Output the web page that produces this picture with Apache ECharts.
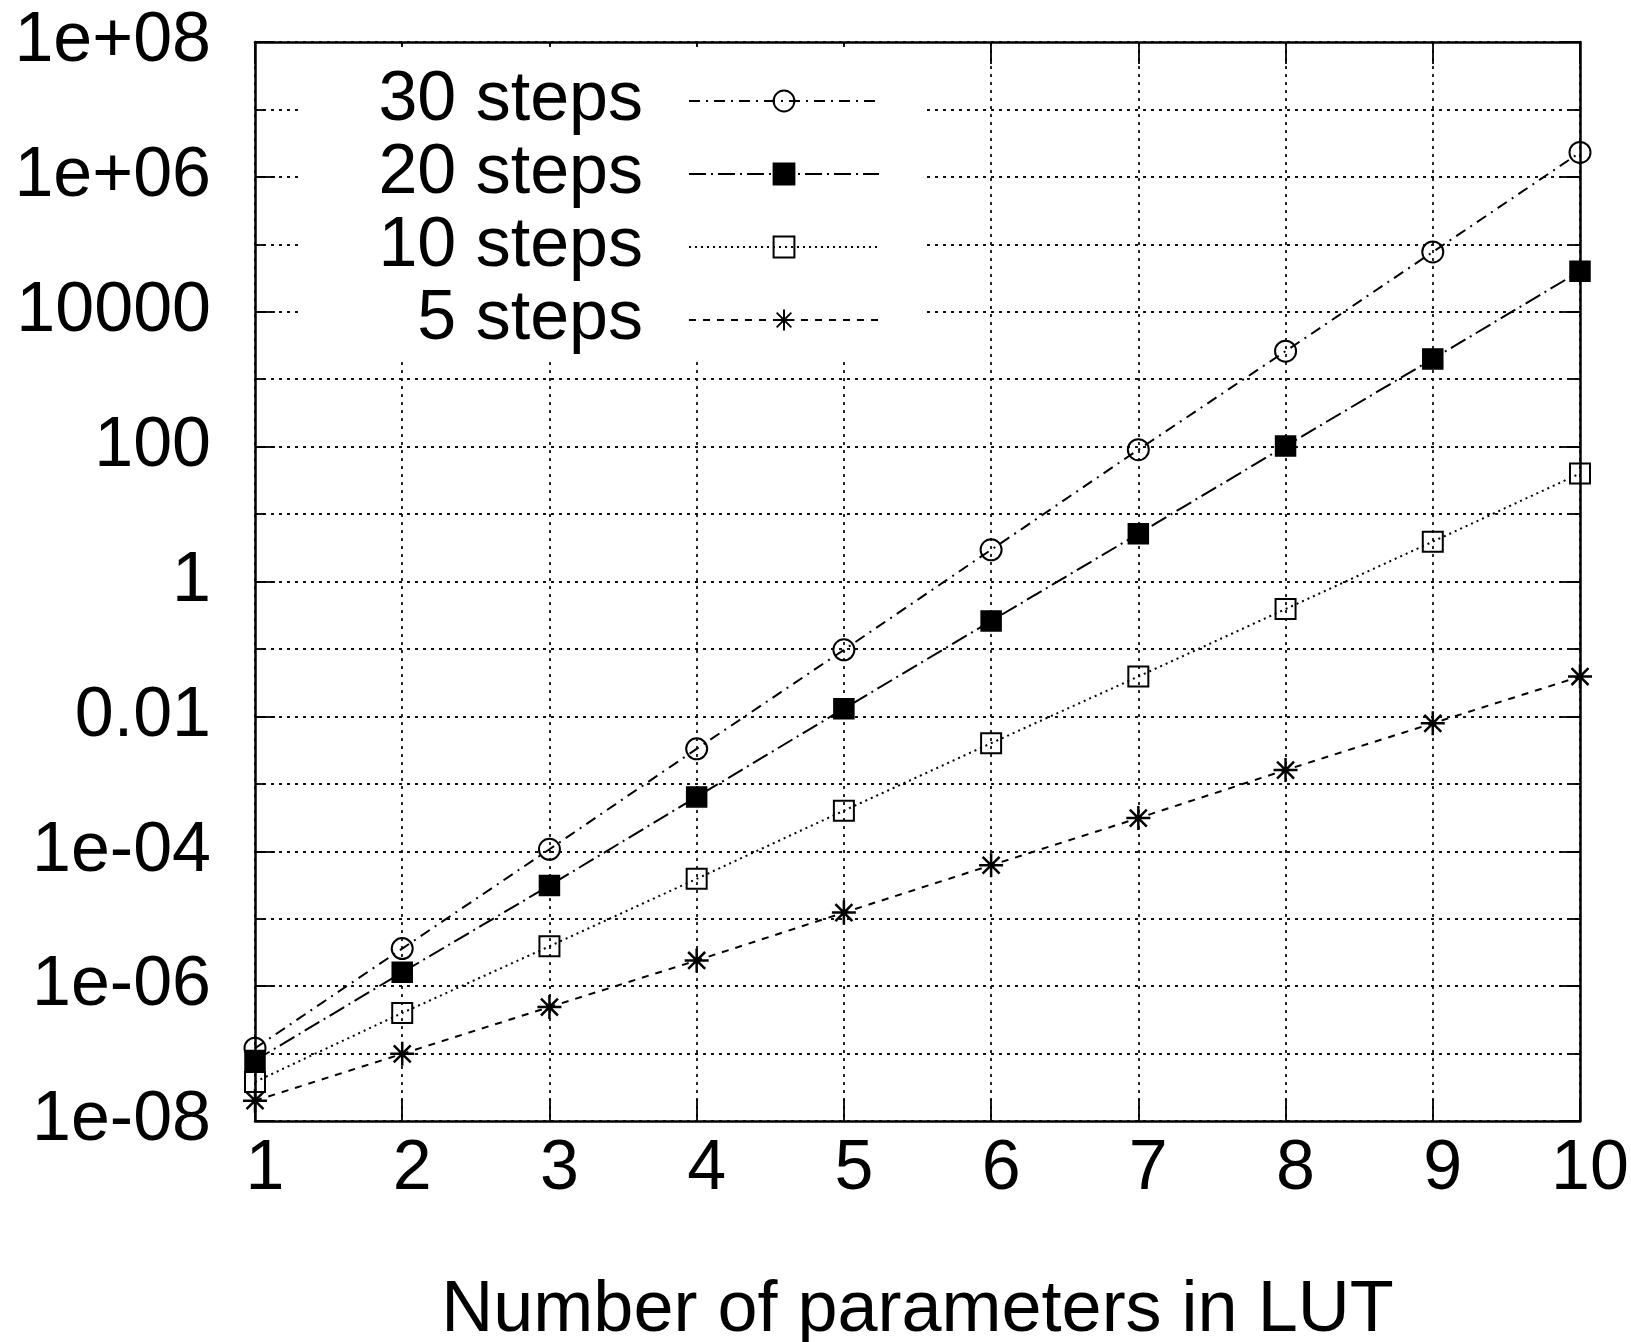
<!DOCTYPE html>
<html>
<head>
<meta charset="utf-8">
<script src="https://cdn.jsdelivr.net/npm/echarts@6/dist/echarts.min.js"></script>
<style>
  html, body { margin: 0; padding: 0; background: #fff; }
  #chart { width: 1631px; height: 1342px; }
</style>
</head>
<body>
<div id="chart"></div>
<script>
// Number of parameters in the look-up table
const paramCounts = [1, 2, 3, 4, 5, 6, 7, 8, 9, 10];

// Values per number of steps
const steps30 = [1.2e-7, 3.6e-6, 1.07e-4, 3.3e-3, 0.097, 2.95, 90, 2600, 7.7e4, 2.3e6];
const steps20 = [7.9e-8, 1.6e-6, 3.1e-5, 6.4e-4, 0.013, 0.26, 5.1, 102, 2.0e3, 4.0e4];
const steps10 = [3.8e-8, 4.0e-7, 3.9e-6, 3.9e-5, 4.0e-4, 4.0e-3, 0.039, 0.39, 3.9, 40];
const steps5  = [2.0e-8, 9.9e-8, 4.9e-7, 2.4e-6, 1.23e-5, 6.2e-5, 3.1e-4, 1.6e-3, 7.9e-3, 0.039];

const seriesNames = ['30 steps', '20 steps', '10 steps', '5 steps'];

// Labelled decades on the log axis and their printed form
const yLabelExponents = [-8, -6, -4, -2, 0, 2, 4, 6, 8];
const yLabelTexts = ['1e-08', '1e-06', '1e-04', '0.01', '1', '100', '10000', '1e+06', '1e+08'];

const FONT = 'Liberation Sans';
const INK = '#000';
const HOLLOW = 'rgba(255,255,255,0)';

const asterisk = 'path://M0,10L20,10M10,0L10,20M2.93,2.93L17.07,17.07M17.07,2.93L2.93,17.07';

function pairs(values) {
  return paramCounts.map((n, i) => [n, values[i]]);
}

function yLabel(v) {
  const e = Math.round(Math.log10(v));
  const i = yLabelExponents.indexOf(e);
  return i >= 0 ? yLabelTexts[i] : '';
}

const dotted = { type: [3, 5], color: '#111', width: 1.8 };

function makeSeries(name, values, symbol, size, dash, fill, border) {
  return {
    name: name,
    type: 'line',
    data: pairs(values),
    symbol: symbol,
    symbolSize: size,
    clip: false,
    lineStyle: { color: INK, width: 2, type: dash },
    itemStyle: { color: fill, borderColor: INK, borderWidth: border },
    emphasis: { disabled: true }
  };
}

const chart = echarts.init(document.getElementById('chart'), null, { renderer: 'canvas' });

const logAxisBase = { type: 'log', logBase: 10, min: 1e-8, max: 1e8 };

chart.setOption({
  animation: false,
  backgroundColor: '#fff',
  textStyle: { fontFamily: FONT, color: INK },
  grid: { left: 255, right: 51, top: 42, bottom: 221, containLabel: false, outerBoundsMode: 'none' },
  legend: {
    orient: 'vertical',
    left: 302,
    top: 47,
    align: 'right',
    data: seriesNames,
    itemWidth: 190,
    itemHeight: 26,
    itemGap: 3,
    backgroundColor: '#fff',
    padding: [19, 42, 5, 41],
    selectedMode: false,
    lineStyle: { width: 2 },
    formatter: n => '{a|' + n + '}{g| }',
    textStyle: {
      fontFamily: FONT, fontSize: 70, color: INK,
      rich: {
        a: { fontFamily: FONT, fontSize: 70, lineHeight: 70, width: 300, align: 'right', color: INK },
        g: { fontFamily: FONT, fontSize: 70, lineHeight: 70, width: 41, align: 'right' }
      }
    }
  },
  xAxis: [
    {
      type: 'value', min: 1, max: 10, interval: 1, position: 'bottom',
      name: 'Number of parameters in LUT',
      nameLocation: 'middle', nameGap: 154,
      nameTextStyle: { fontFamily: FONT, fontSize: 72, color: INK },
      axisLine: { show: true, lineStyle: { color: INK, width: 2.5 } },
      axisTick: { show: true, inside: true, length: 22, lineStyle: { color: INK, width: 1.8 } },
      axisLabel: { fontFamily: FONT, fontSize: 70, color: INK, margin: 14, padding: [0, 0, 0, 20] },
      splitLine: { show: true, lineStyle: dotted }
    },
    {
      type: 'value', min: 1, max: 10, interval: 1, position: 'top',
      axisLine: { show: true, lineStyle: { color: INK, width: 2.5 } },
      axisTick: { show: true, inside: true, length: 22, lineStyle: { color: INK, width: 1.8 } },
      axisLabel: { show: false },
      splitLine: { show: false }
    }
  ],
  yAxis: [
    Object.assign({}, logAxisBase, {
      position: 'left', interval: 1,
      axisLine: { show: true, lineStyle: { color: INK, width: 2.5 } },
      axisTick: { show: true, inside: true, length: 10, lineStyle: { color: INK, width: 1.8 } },
      axisLabel: { fontFamily: FONT, fontSize: 70, color: INK, margin: 44, formatter: yLabel },
      splitLine: { show: true, lineStyle: dotted },
      minorTick: { show: false }
    }),
    Object.assign({}, logAxisBase, {
      position: 'left', interval: 2,
      axisLine: { show: false },
      axisTick: { show: true, inside: true, length: 20, lineStyle: { color: INK, width: 1.8 } },
      axisLabel: { show: false },
      splitLine: { show: false }
    }),
    Object.assign({}, logAxisBase, {
      position: 'right', interval: 1,
      axisLine: { show: true, lineStyle: { color: INK, width: 2.5 } },
      axisTick: { show: true, inside: true, length: 10, lineStyle: { color: INK, width: 1.8 } },
      axisLabel: { show: false },
      splitLine: { show: false }
    }),
    Object.assign({}, logAxisBase, {
      position: 'right', interval: 2,
      axisLine: { show: false },
      axisTick: { show: true, inside: true, length: 20, lineStyle: { color: INK, width: 1.8 } },
      axisLabel: { show: false },
      splitLine: { show: false }
    })
  ],
  series: [
    makeSeries(seriesNames[0], steps30, 'circle', 21, [11, 6, 2, 6], HOLLOW, 2),
    makeSeries(seriesNames[1], steps20, 'rect', 20, [17, 5, 2, 5], INK, 1.5),
    makeSeries(seriesNames[2], steps10, 'rect', 20, [2, 4], HOLLOW, 2),
    makeSeries(seriesNames[3], steps5, asterisk, 24, [7, 7], INK, 2.5)
  ]
});
</script>
</body>
</html>
